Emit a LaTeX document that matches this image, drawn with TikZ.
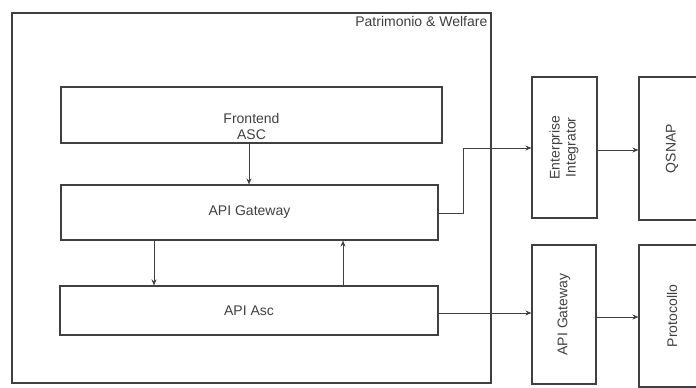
\documentclass[tikz,border=0pt]{standalone}
\usepackage{fontspec}
\setmainfont{Liberation Sans}
\usepackage{tikz}
\usetikzlibrary{positioning,calc,arrows.meta}

\tikzset{
  blk/.style={draw=black!75, line width=1.1pt, minimum width=#1, inner sep=2pt, align=center},
  blk/.default=378pt,
  link/.style={-{Stealth[length=6pt,width=5pt]}, draw=black!75, line width=1pt}
}

\begin{document}
\begin{tikzpicture}[x=1pt, y=-1pt, every node/.style={font=\fontsize{14}{16}\selectfont, text=black!75}]
            \useasboundingbox (0,0) rectangle (696,388);

            % Container
            \node[blk=479pt, minimum height=370pt] (pw) at (251.5,198) {};
            \node[anchor=north east, inner sep=4pt] (pwlabel) at (pw.north east) {Patrimonio \& Welfare};

            % Boxes inside
            \node[blk=381pt, minimum height=56pt] (front) at (251.5,115) {\\[18pt]Frontend\\ASC};
            \node[blk=377pt, minimum height=55pt] (gw) at (249.5,212.5) {API Gateway};
            \node[blk=378pt, minimum height=49pt] (asc) at (249,310.5) {API Asc};

            % Boxes outside
            \node[blk=65pt, minimum height=141pt] (ei) at (564.5,147.5) {\rotatebox{90}{\begin{tabular}{@{}c@{}}Enterprise\\Integrator\end{tabular}}};
            \node[blk=66pt, minimum height=143pt] (qsnap) at (672,148.5) {\rotatebox{90}{QSNAP}};
            \node[blk=64pt, minimum height=139pt] (gwext) at (564,314.5) {\rotatebox{90}{API Gateway}};
            \node[blk=66pt, minimum height=142pt] (prot) at (672,316) {\rotatebox{90}{Protocollo}};

            % Arrows
            \draw[link] (front.south -| 249,0) -- (gw.north -| 249,0);
            \draw[link] (gw.south -| 154,0) -- (asc.north -| 154,0);
            \draw[link] (asc.north -| 343,0) -- (gw.south -| 343,0);
            \coordinate (bend) at (463,213);
            \draw[link] (gw.east |- bend) -- (bend) |- (ei.west |- 0,148);
            \draw[link] (asc.east |- 0,313) -- (gwext.west |- 0,313);
            \draw[link] (ei.east |- 0,150) -- (qsnap.west |- 0,150);
            \draw[link] (gwext.east |- 0,317) -- (prot.west |- 0,317);
        \end{tikzpicture}
\end{document}
